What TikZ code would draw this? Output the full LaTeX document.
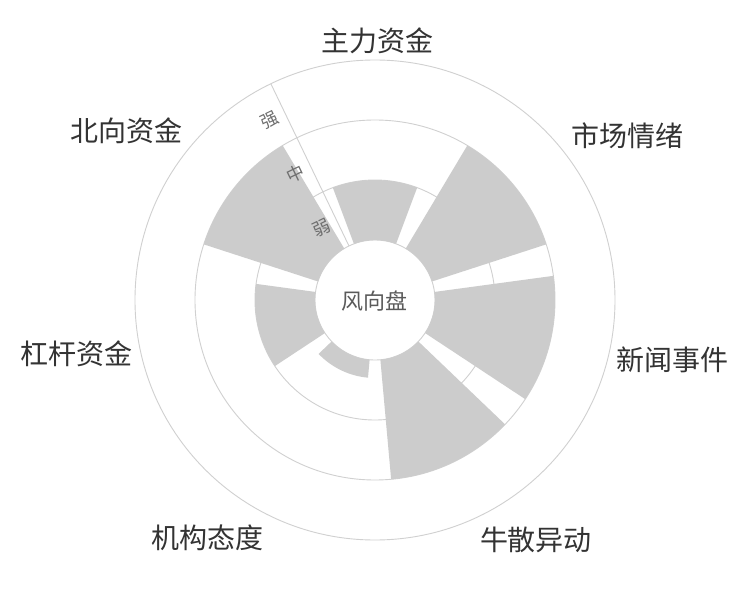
\documentclass[tikz,border=0pt]{standalone}
\usepackage{fontspec}
\usetikzlibrary{calc}
\setmainfont{Noto Sans CJK SC}
\definecolor{barfill}{RGB}{204,204,204}
\definecolor{gridline}{RGB}{208,208,208}
\definecolor{labeltext}{RGB}{51,51,51}
\definecolor{centertext}{RGB}{90,90,90}
\definecolor{axistext}{RGB}{110,110,110}
\tikzset{
  grid circle/.style={draw=gridline, line width=0.9pt},
  axis line/.style={draw=gridline, line width=0.9pt},
  bar sector/.style={fill=barfill},
  cat label/.style={inner sep=0pt, text=labeltext, font=\fontsize{28}{33}\selectfont},
  level label/.style={inner sep=0pt, text=axistext, font=\fontsize{17.5}{21}\selectfont, rotate=25.714},
  center label/.style={inner sep=0pt, text=centertext, font=\fontsize{22}{26}\selectfont},
}
\newcommand{\barsector}[2]{%
  \pgfmathsetmacro{\sa}{#1-20.571}%
  \pgfmathsetmacro{\ea}{#1+20.571}%
  \path[bar sector] (\sa:60) arc[start angle=\sa, end angle=\ea, radius=60]
    -- (\ea:#2) arc[start angle=\ea, end angle=\sa, radius=#2] -- cycle;%
}
\begin{document}
\begin{tikzpicture}[x=1pt,y=1pt]
\useasboundingbox (-375,-300) rectangle (375,300);
\fill[white] (-375,-300) rectangle (375,300);
% split circles
\foreach \r in {60,120,180,240} \draw[grid circle] (0,0) circle[radius=\r];
% bars
\barsector{90}{120}
\barsector{38.571}{180}
\barsector{-12.857}{180}
\barsector{-64.286}{180}
\barsector{-115.714}{78}
\barsector{-167.143}{120}
\barsector{141.429}{180}
% radius axis
\coordinate (axin) at (115.714:60);
\coordinate (axout) at (115.714:240);
\draw[axis line] (axin) -- (axout);
% level labels
\node[level label] (weak) at ($(115.714:88)+(205.714:17)$) {弱};
\node[level label] (mid) at ($(115.714:148)+(205.714:17)$) {中};
\node[level label] (strong) at ($(115.714:208)+(205.714:17)$) {强};
% center
\node[center label] (center) at (0,-1) {风向盘};
% category labels
\node[cat label] (zhuli) at (3,259) {主力资金};
\node[cat label] (shichang) at (252,164) {市场情绪};
\node[cat label] (xinwen) at (297,-60) {新闻事件};
\node[cat label] (niusan) at (161,-240) {牛散异动};
\node[cat label] (jigou) at (-167,-238) {机构态度};
\node[cat label] (gangan) at (-298,-54) {杠杆资金};
\node[cat label] (beixiang) at (-248,169) {北向资金};
\end{tikzpicture}
\end{document}
